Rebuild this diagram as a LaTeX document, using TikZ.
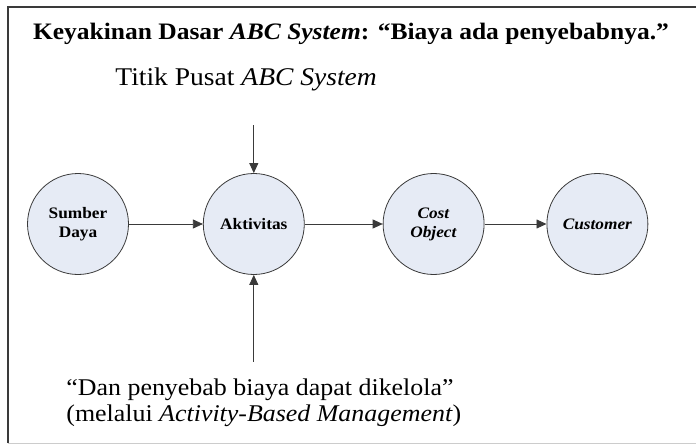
\documentclass[tikz,border=0pt]{standalone}
\usepackage{fontspec}
\setmainfont{Liberation Serif}[FakeStretch=1.08]
\usepackage{xcolor}
\usetikzlibrary{positioning, arrows.meta}

\definecolor{circfill}{HTML}{E6EBF5}
\definecolor{linegray}{HTML}{3A3A3A}

\begin{document}
\begin{tikzpicture}[x=1pt,y=-1pt,->,>={Triangle[length=10pt,width=9pt]},
			thick,main node/.style={circle,draw=linegray,fill=circfill,minimum size=101pt,inner sep=0pt,align=center,
			font=\fontsize{16}{19}\selectfont\bfseries},
			note/.style={font=\fontsize{24}{25.5}\selectfont,align=left,inner sep=0pt}]
			
			\useasboundingbox (0,0) rectangle (696,444);
			\draw[-,line width=1.4pt,linegray] (8,443) -- (8,7) -- (696,7);
			\draw[-,line width=0.8pt,black!20] (8,443) -- (696,443);
			
			\node[font=\fontsize{23.6}{28}\selectfont\bfseries,inner sep=0pt] (title) at (351,34)
			{Keyakinan Dasar \textit{ABC System}: “Biaya ada penyebabnya.”};
			
			\node[main node] (1) at (78,224) {Sumber\\Daya};
			\node[main node] (2) [right=74pt of 1] {Aktivitas};
			\node[main node] (3) [right=78pt of 2] {\textit{Cost}\\\textit{Object}};
			\node[main node] (4) [right=62pt of 3] {\textit{Customer}};
			
			\node[note,font=\fontsize{25.5}{25}\selectfont,anchor=west] (top) at (115,79) {Titik Pusat \textit{ABC System}};
			\node[note,anchor=west] (bot) at (66,403)
			{“Dan penyebab biaya dapat dikelola”\\(melalui \textit{Activity-Based Management})};
			
			\coordinate (upend) at ([yshift=48pt]2.north);
			\coordinate (lowend) at ([yshift=-87pt]2.south);
			
			\draw[linegray] (1) -- (2);
			\draw[linegray] (2) -- (3);
			\draw[linegray] (3) -- (4);
			\draw[linegray] (upend) -- (2.north);
			\draw[linegray] (lowend) -- (2.south);
		\end{tikzpicture}
\end{document}
